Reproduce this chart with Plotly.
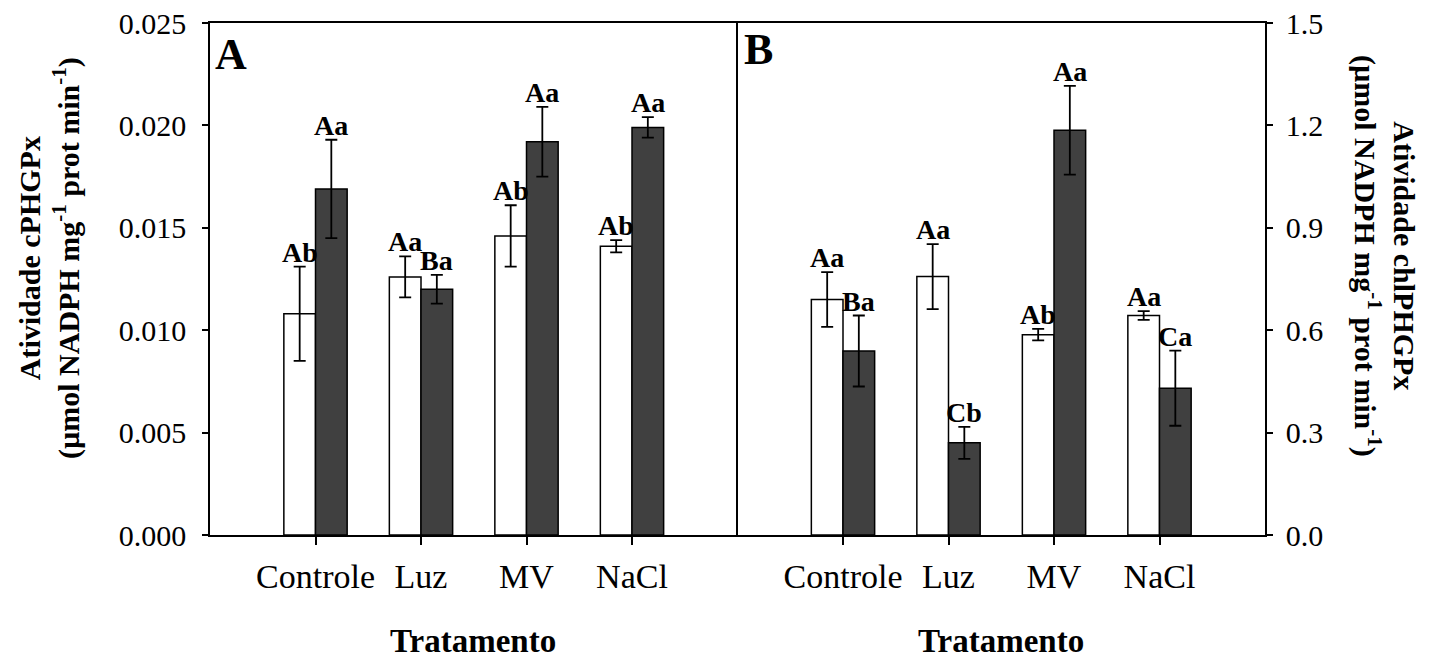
import plotly.graph_objects as go

# data
categories = ["Controle", "Luz", "MV", "NaCl"]
xpos = [1, 2, 3, 4]

# panel A - cPHGPx
a_white = [0.0108, 0.0126, 0.0146, 0.0141]
a_white_err = [0.0023, 0.0010, 0.0015, 0.0003]
a_dark = [0.0169, 0.0120, 0.0192, 0.0199]
a_dark_err = [0.0024, 0.0007, 0.0017, 0.0005]
a_white_lbl = ["Ab", "Aa", "Ab", "Ab"]
a_dark_lbl = ["Aa", "Ba", "Aa", "Aa"]

# panel B - chlPHGPx
b_white = [0.690, 0.757, 0.587, 0.643]
b_white_err = [0.080, 0.095, 0.017, 0.013]
b_dark = [0.539, 0.270, 1.186, 0.430]
b_dark_err = [0.104, 0.047, 0.130, 0.110]
b_white_lbl = ["Aa", "Aa", "Ab", "Aa"]
b_dark_lbl = ["Ba", "Cb", "Aa", "Ca"]

W, H = 1437, 660
OFF = 8  # the page body margin shifts the figure by 8px
FONT = "Liberation Serif"
DARK = "#404040"
BW = 0.3


def px_x(p):
    # page pixel -> paper fraction
    return (p - OFF) / W


def px_y(p):
    return 1 - (p - OFF) / H


fig = go.Figure()


def add_bars(xa, ya, white, white_err, dark, dark_err):
    for vals, errs, color, off in [(white, white_err, "white", -BW), (dark, dark_err, DARK, 0)]:
        fig.add_trace(go.Bar(
            x=xpos, y=vals, width=BW, offset=off,
            marker=dict(color=color, line=dict(color="black", width=1.5)),
            error_y=dict(type="data", array=errs, visible=True,
                         color="black", thickness=1.8, width=6),
            xaxis=xa, yaxis=ya, showlegend=False))


add_bars("x", "y", a_white, a_white_err, a_dark, a_dark_err)
add_bars("x2", "y2", b_white, b_white_err, b_dark, b_dark_err)

annotations = []


def add_labels(xref, yref, vals, errs, labels, shift):
    for x, v, e, t in zip(xpos, vals, errs, labels):
        annotations.append(dict(
            x=x + shift, y=v + e, xref=xref, yref=yref, text="<b>%s</b>" % t,
            showarrow=False, xanchor="center", yanchor="bottom", yshift=-3,
            font=dict(family=FONT, size=28, color="black")))


add_labels("x", "y", a_white, a_white_err, a_white_lbl, -BW / 2)
add_labels("x", "y", a_dark, a_dark_err, a_dark_lbl, BW / 2)
add_labels("x2", "y2", b_white, b_white_err, b_white_lbl, -BW / 2)
add_labels("x2", "y2", b_dark, b_dark_err, b_dark_lbl, BW / 2)

# panel letters
annotations.append(dict(x=px_x(213), y=px_y(54), xref="paper", yref="paper",
                        text="<b>A</b>", showarrow=False, xanchor="left", yanchor="middle",
                        font=dict(family=FONT, size=44, color="black")))
annotations.append(dict(x=px_x(742), y=px_y(49), xref="paper", yref="paper",
                        text="<b>B</b>", showarrow=False, xanchor="left", yanchor="middle",
                        font=dict(family=FONT, size=44, color="black")))

# x titles
for cx in [473, 1001]:
    annotations.append(dict(x=px_x(cx), y=px_y(641), xref="paper", yref="paper",
                            text="<b>Tratamento</b>", showarrow=False,
                            xanchor="center", yanchor="middle",
                            font=dict(family=FONT, size=33, color="black")))

# y titles
annotations.append(dict(
    x=px_x(49), y=px_y(258), xref="paper", yref="paper", textangle=-90,
    text="<b>Atividade cPHGPx</b><br><b>(µmol NADPH mg<sup>-1</sup> prot min<sup>-1</sup>)</b>",
    showarrow=False, xanchor="center", yanchor="middle",
    font=dict(family=FONT, size=30, color="black")))
annotations.append(dict(
    x=px_x(1384), y=px_y(256), xref="paper", yref="paper", textangle=90,
    text="<b>Atividade chlPHGPx</b><br><b>(µmol NADPH mg<sup>-1</sup> prot min<sup>-1</sup>)</b>",
    showarrow=False, xanchor="center", yanchor="middle",
    font=dict(family=FONT, size=30, color="black")))

ytickfont = dict(family=FONT, size=30, color="black")
xtickfont = dict(family=FONT, size=34, color="black")
xcommon = dict(range=[0, 5], tickvals=xpos, ticktext=categories, ticks="outside",
               ticklen=8, tickwidth=1.5, tickcolor="black", showline=True,
               linecolor="black", linewidth=1.5, mirror=True, showgrid=False,
               zeroline=False, tickfont=xtickfont, ticklabelstandoff=2,
               automargin=False, ticklabeloverflow="allow")
ycommon = dict(ticks="outside", ticklen=6, tickwidth=1.5, tickcolor="black",
               showline=True, linecolor="black", linewidth=1.5,
               showgrid=False, zeroline=False, tickfont=ytickfont, automargin=False,
               ticklabeloverflow="allow")

ydom = [px_y(535), px_y(23)]
fig.update_layout(
    width=W, height=H,
    margin=dict(l=0, r=0, t=0, b=0),
    paper_bgcolor="white", plot_bgcolor="white",
    barmode="overlay",
    xaxis=dict(domain=[px_x(210), px_x(737.5)], anchor="y", **xcommon),
    # right border of A comes from the left line of B
    yaxis=dict(domain=ydom, anchor="x", range=[0, 0.025], dtick=0.005,
               tickformat=".3f", mirror=False, ticklabelstandoff=10, **ycommon),
    xaxis2=dict(domain=[px_x(737.5), px_x(1265)], anchor="y2", **xcommon),
    yaxis2=dict(domain=ydom, anchor="x2", side="right", range=[0, 1.5], dtick=0.3,
                tickformat=".1f", mirror=True, ticklabelstandoff=7, **ycommon),
    annotations=annotations,
)

fig.write_html("out.html")
